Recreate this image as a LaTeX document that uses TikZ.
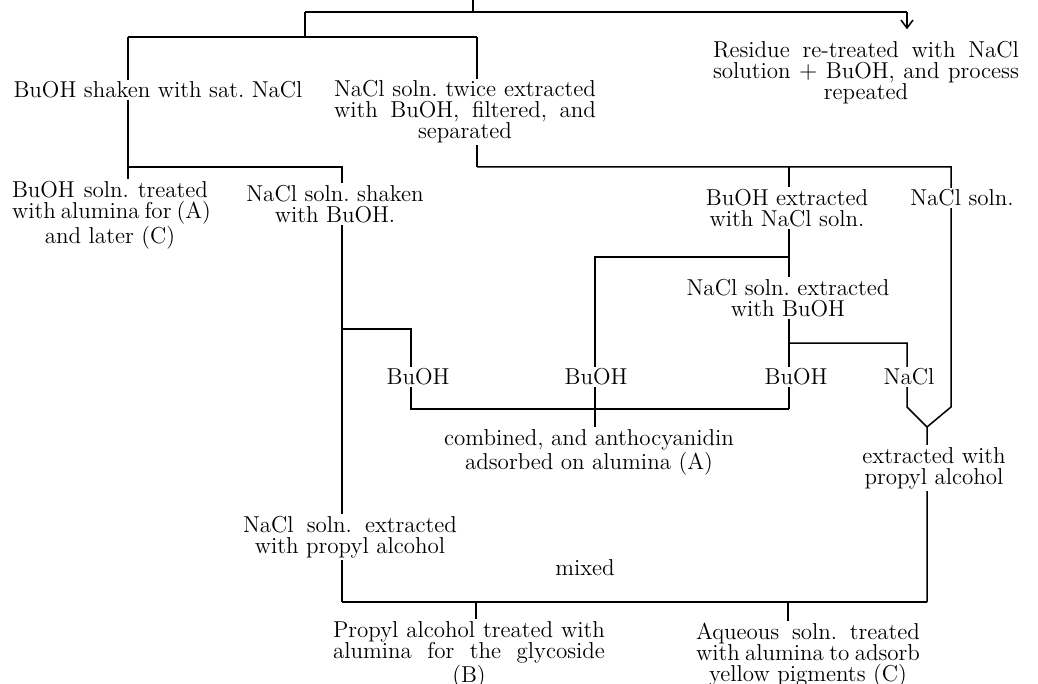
\documentclass[tikz,border=0pt]{standalone}
\usepackage{tikz}
\usetikzlibrary{arrows.meta,backgrounds}
\newcommand{\spreadline}[2]{\makebox[#1][s]{#2}}
\frenchspacing

\begin{document}
\begin{tikzpicture}[x=0.5pt,y=-0.5pt,>={Straight Barb[length=4pt,width=6pt]},
  stage/.style={fill=white, inner sep=1pt, align=center, font=\fontsize{11.5}{10.5}\selectfont},
  flow/.style={line width=0.75pt}]
        \useasboundingbox (0,0) rectangle (1038,684);
        % the stages
        \node[stage] (residue) at (866,73) {\spreadline{153pt}{Residue re-treated with NaCl}\\ \spreadline{153pt}{solution $+$ BuOH, and process}\\ repeated};
        \node[stage] (shaken) at (158,90) {BuOH shaken with sat. NaCl};
        \node[stage] (twice) at (465,112) {\spreadline{131pt}{NaCl soln. twice extracted}\\ \spreadline{131pt}{with BuOH, filtered, and}\\ separated};
        \node[stage] (alumina) at (110,215) {\spreadline{98pt}{BuOH soln. treated}\\ \spreadline{98pt}{with alumina for (A)}\\ and later (C)};
        \node[stage] (shakenbu) at (335,204) {NaCl soln. shaken\\ with BuOH.};
        \node[stage] (buext) at (787,208) {BuOH extracted\\ with NaCl soln.};
        \node[stage] (naclsoln) at (962,198) {NaCl soln.};
        \node[stage] (naclext) at (788,298) {NaCl soln. extracted\\ with BuOH};
        \node[stage] (buoh1) at (418,377) {BuOH};
        \node[stage] (buoh2) at (596,377) {BuOH};
        \node[stage] (buoh3) at (796,377) {BuOH};
        \node[stage] (nacl) at (909,377) {NaCl};
        \node[stage] (combined) at (589,452) {combined, and anthocyanidin\\ adsorbed on alumina (A)};
        \node[stage] (propext) at (934,468) {extracted with\\ propyl alcohol};
        \node[stage] (naclprop) at (350,537) {\spreadline{107pt}{NaCl soln. extracted}\\ with propyl alcohol};
        \node[stage] (mixed) at (585,568) {mixed};
        \node[stage] (glyc) at (469,655) {\spreadline{136pt}{Propyl alcohol treated with}\\ \spreadline{136pt}{alumina for the glycoside}\\ (B)};
        \node[stage] (yellow) at (808,655) {\spreadline{112pt}{Aqueous soln. treated}\\ \spreadline{112pt}{with alumina to adsorb}\\ yellow pigments (C)};
        % corners of the lines
        \coordinate (top) at (473,0);
        \coordinate (split) at (473,12);
        \coordinate (lsplit) at (305,12);
        \coordinate (rarrow) at (907,12);
        \coordinate (lbus) at (305,37);
        \coordinate (la) at (128,37);
        \coordinate (lb) at (477,37);
        \coordinate (lc) at (128,167);
        \coordinate (ld) at (342,167);
        \coordinate (tw) at (477,167);
        \coordinate (te) at (951,167);
        \coordinate (bx) at (789,167);
        \coordinate (bj) at (789,257);
        \coordinate (bm) at (595,257);
        \coordinate (sj) at (342,329);
        \coordinate (s1) at (411,329);
        \coordinate (b1) at (411,409);
        \coordinate (b3) at (789,409);
        \coordinate (cj) at (789,343);
        \coordinate (cn) at (907,343);
        \coordinate (nk) at (907,407);
        \coordinate (sk) at (951,407);
        \coordinate (merge) at (927,427);
        \coordinate (bl) at (342,602);
        \coordinate (br) at (927,602);
        \coordinate (g1) at (476,602);
        \coordinate (y1) at (788,602);
        \begin{pgfonlayer}{background}
        \fill[white] (0,0) rectangle (1038,684);
        \draw[flow] (top) -- (split);
        \draw[flow] (lsplit) -- (rarrow);
        \draw[flow, ->, shorten >=5pt] (rarrow) -- (rarrow |- residue.north);
        \draw[flow] (lsplit) -- (lbus);
        \draw[flow] (la) -- (lb);
        \draw[flow] (la) -- (la |- alumina.north);
        \draw[flow] (lb) -- (tw);
        \draw[flow] (lc) -- (ld) -- (bl);
        \draw[flow] (tw) -- (te) -- (sk) -- (merge);
        \draw[flow] (bx) -- (b3);
        \draw[flow] (bj) -- (bm) -- (bm |- combined.north);
        \draw[flow] (sj) -- (s1) -- (b1) -- (b3);
        \draw[flow] (cj) -- (cn) -- (nk) -- (merge) -- (br);
        \draw[flow] (bl) -- (br);
        \draw[flow] (g1) -- (g1 |- glyc.north);
        \draw[flow] (y1) -- (y1 |- yellow.north);
        \end{pgfonlayer}
      \end{tikzpicture}
\end{document}
